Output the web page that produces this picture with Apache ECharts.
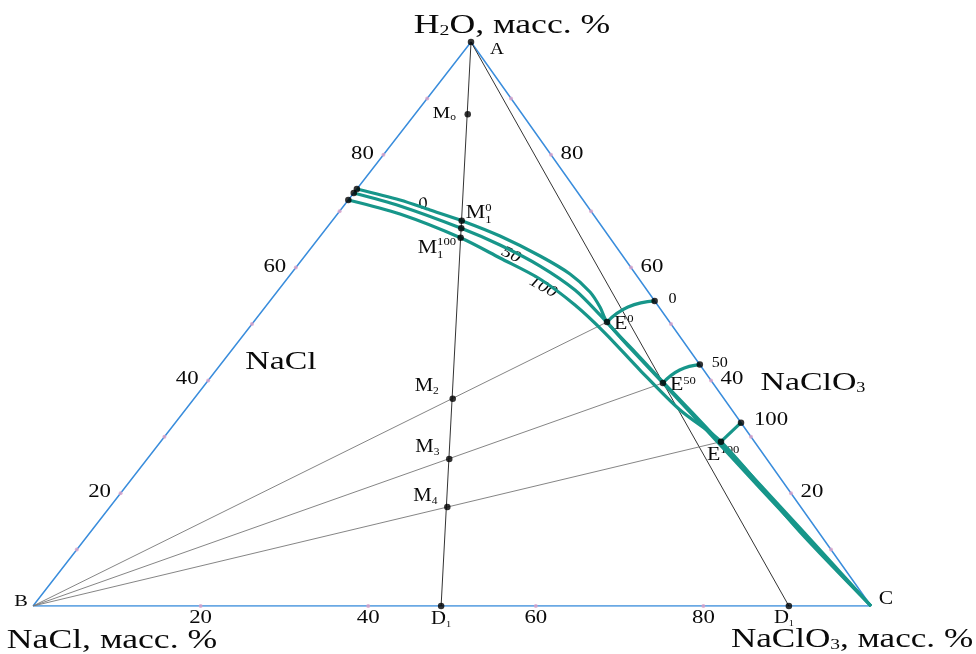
<!DOCTYPE html>
<html><head><meta charset="utf-8">
<script src="https://cdn.jsdelivr.net/npm/echarts@6/dist/echarts.min.js"></script>
<style>html,body{margin:0;padding:0;background:#fff}#c{width:976px;height:654px}</style>
</head><body><div id="c"></div>
<script>
// Compositions are [NaClO3 mass %, H2O mass %]; NaCl = 100 - both.
const vertexA = [0, 100];
const vertexB = [0, 0];
const vertexC = [100, 0];
const pointD1 = [48.7, 0];
const pointD1b = [90.2, 0];
const pointM0 = [6.3, 87.2];
const pointM1_0 = [15.45, 68.32];
const pointM1_50 = [16.1, 66.97];
const pointM1_100 = [16.9, 65.3];
const pointM2 = [30.87, 36.76];
const pointM3 = [36.05, 26.06];
const pointM4 = [40.27, 17.55];
const pointE0 = [42.18, 50.35];
const pointE50 = [54.5, 39.54];
const pointE100 = [66.87, 29.13];
const sideP0 = [45.9, 54.1];
const sideP50 = [57.2, 42.8];
const sideP100 = [67.5, 32.5];
const arcMid0 = [43.3, 53.0];
const arcMid50 = [55.3, 41.84];

const curve0 = [[0,73.94],[6.17,71.99],[10.68,70.21],[15.45,68.32],[21.44,65.6],[28.07,62.06],[33.31,58.87],[37.37,55.67],[39.95,53.01],[42.18,50.35],[48.3,45.04],[54.42,39.72],[67.2,28.72],[84.3,13.83],[100,0]];
const curve50 = [[0,73.23],[6.73,70.92],[16.1,66.97],[22.27,64.01],[29.0,60.28],[35.39,56.03],[40.69,51.6],[47.34,45.74],[54.5,39.54],[67.49,28.19],[84.58,13.3],[100,0]];
const curve100 = [[0,71.99],[7.47,69.5],[16.97,65.25],[23.48,61.7],[30.19,57.98],[36.78,53.37],[42.96,48.4],[50.56,41.84],[59.05,34.75],[66.87,29.13],[84.67,13.12],[100,0]];

const tickMinor = [10,20,30,40,50,60,70,80,90];
const tickLabels = [20,40,60,80];

// layout: apex offset (fraction of base) for the drawn triangle
const APEX = 0.5227;
const tern = p => [p[0] + p[1]*APEX, p[1]];

const BLUE = '#3a8ddc', TEAL = '#17968a', PINK = '#d9a0c8';

const chart = echarts.init(document.getElementById('c'), null, {renderer:'canvas'});

function line(data, color, width, z, smooth){
  return {type:'line', data:data.map(tern), symbol:'none', silent:true, animation:false,
    smooth: smooth||false, z: z||2, lineStyle:{color, width}};
}

const blackPts = [pointM0,pointM1_0,pointM1_50,pointM1_100,pointM2,pointM3,pointM4,pointE0,pointE50,pointE100,
  sideP0,sideP50,sideP100,pointD1,pointD1b,vertexA, curve0[0], curve50[0], curve100[0]];
const pinkPts = [].concat(
  tickMinor.map(h=>[0,h]),
  tickMinor.map(h=>[100-h,h]),
  tickLabels.map(c=>[c,0]));

chart.setOption({
  animation:false,
  grid:{left:33, top:42, width:838, height:564},
  xAxis:{type:'value', min:0, max:100, show:false},
  yAxis:{type:'value', min:0, max:100, show:false},
  series:[
    line([vertexB, vertexC, vertexA, vertexB], BLUE, 1.5, 2),
    line([vertexA, pointD1], '#333', 1, 3),
    line([vertexA, pointD1b], '#333', 1, 3),
    line([vertexB, pointE0], '#777', 0.9, 3),
    line([vertexB, pointE50], '#777', 0.9, 3),
    line([vertexB, pointE100], '#777', 0.9, 3),
    line(curve0, TEAL, 3.2, 4, 0.3),
    line(curve50, TEAL, 3.2, 4, 0.3),
    line(curve100, TEAL, 3.2, 4, 0.3),
    line([pointE0, arcMid0, sideP0], TEAL, 3.2, 4, 0.5),
    line([pointE50, arcMid50, sideP50], TEAL, 3.2, 4, 0.5),
    line([pointE100, sideP100], TEAL, 3.2, 4),
    {type:'scatter', data:pinkPts.map(tern), symbolSize:4, silent:true, z:5,
      itemStyle:{color:PINK}},
    {type:'scatter', data:blackPts.map(tern), symbolSize:6.5, silent:true, z:6,
      itemStyle:{color:'#000'}}
  ]
});

// ---- text (stretched serif like the original) ----
const ctx = document.createElement('canvas').getContext('2d');
const FAM = '"Liberation Serif", "DejaVu Serif", serif';
const els = [];
function T(x, y, pieces, align, sx, rot){
  sx = sx || 1.28;
  const fonts = pieces.map(p => (p[3]||'') + ' ' + p[1] + 'px ' + FAM);
  const widths = pieces.map((p,i)=>{ctx.font = fonts[i]; return ctx.measureText(p[0]).width*sx;});
  const total = widths.reduce((a,b)=>a+b,0);
  let cx = align==='center' ? -total/2 : align==='right' ? -total : 0;
  const g = {type:'group', x, y, rotation: rot||0, children:[]};
  pieces.forEach((p,i)=>{
    g.children.push({type:'text', x:cx + (p[4]||0), y:(p[2]||0), scaleX:sx,
      style:{text:p[0], font:fonts[i], fill:'#0a0a0a', textAlign:'left', textVerticalAlign:'middle'}});
    if (!p[5]) cx += widths[i];
  });
  els.push(g);
}
const px = p => chart.convertToPixel({gridIndex:0}, tern(p));
function at(p, dx, dy){ const q = px(p); return [q[0]+dx, q[1]+dy]; }

// titles
T(512, 26, [['H',27],['2',15,5],['O, масс. %',27]], 'center', 1.32);
T(112, 641, [['NaCl, масс. %',27]], 'center', 1.32);
T(852, 640, [['NaClO',27],['3',15,5],[', масс. %',27]], 'center', 1.3);
T(281, 362, [['NaCl',26]], 'center', 1.3);
T(813, 383, [['NaClO',26],['3',14,5]], 'center', 1.3);

// vertex labels
let q;
q = at(vertexA, 26, 8); T(q[0], q[1], [['A',16]], 'center', 1.2);
q = at(vertexB, -12, -4); T(q[0], q[1], [['B',17]], 'center', 1.2);
q = at(vertexC, 15, -7); T(q[0], q[1], [['C',18]], 'center', 1.2);
q = at(pointD1, -10, 13); T(q[0], q[1], [['D',18],['1',9,6]], 'left', 1.15);
q = at(pointD1b, -15, 12); T(q[0], q[1], [['D',18],['1',9,6]], 'left', 1.15);

// tick labels
tickLabels.forEach(h=>{
  let a = at([0,h], -21, -1); T(a[0], a[1], [[String(h),19]], 'center', 1.2);
  let b = at([100-h,h], 21, -1); T(b[0], b[1], [[String(h),19]], 'center', 1.2);
});
tickLabels.forEach(c=>{
  let a = at([c,0], 0, 12); T(a[0], a[1], [[String(c),19]], 'center', 1.2);
});

// point labels
q = at(pointM0, -35, -1); T(q[0], q[1], [['M',17],['o',10,4]], 'left', 1.15);
q = at(pointM2, -38, -12); T(q[0], q[1], [['M',18],['2',10,5]], 'left', 1.15);
q = at(pointM3, -34, -12); T(q[0], q[1], [['M',18],['3',10,5]], 'left', 1.15);
q = at(pointM4, -34, -11); T(q[0], q[1], [['M',18],['4',10,5]], 'left', 1.15);
q = at(pointM1_0, 4, -8); T(q[0], q[1], [['M',19],['0',11,-5,'',0,true],['1',11,7]], 'left', 1.15);
q = at(pointM1_100, -43, 10); T(q[0], q[1], [['M',19],['100',11,-6,'',0,true],['1',11,7]], 'left', 1.15);
q = at(pointE0, 7, 2); T(q[0], q[1], [['E',19],['0',11,-5]], 'left', 1.15);
q = at(pointE50, 7, 2); T(q[0], q[1], [['E',19],['50',11,-4]], 'left', 1.15);
q = at(pointE100, -14, 13); T(q[0], q[1], [['E',19],['100',11,-5]], 'left', 1.15);
q = at(sideP0, 18, -2); T(q[0], q[1], [['0',14]], 'center', 1.15);
q = at(sideP50, 20, -1); T(q[0], q[1], [['50',14]], 'center', 1.15);
q = at(sideP100, 30, -3); T(q[0], q[1], [['100',19]], 'center', 1.2);

// curve labels (italic)
T(423, 204, [['0',16,0,'italic']], 'center', 1.2, 0.3);
T(511, 255, [['50',16,0,'italic']], 'center', 1.2, -0.45);
T(543, 287, [['100',16,0,'italic']], 'center', 1.2, -0.5);

chart.setOption({graphic:{elements:els}});
</script></body></html>
